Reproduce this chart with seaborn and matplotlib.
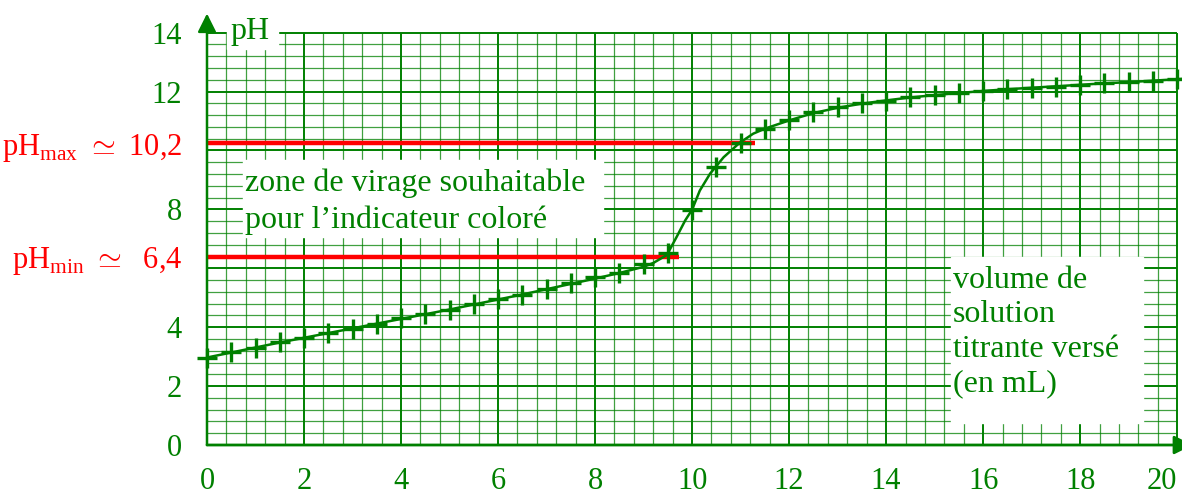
import numpy as np
import seaborn as sns
import matplotlib.pyplot as plt
from matplotlib.patches import Rectangle

# mesures (volume versé en mL, pH)
volume = [0, 0.5, 1, 1.5, 2, 2.5, 3, 3.5, 4, 4.5, 5, 5.5, 6, 6.5, 7, 7.5, 8,
          8.5, 9, 9.5, 10, 10.5, 11, 11.5, 12, 12.5, 13, 13.5, 14, 14.5, 15,
          15.5, 16, 16.5, 17, 17.5, 18, 18.5, 19, 19.5, 20]
ph = [2.97, 3.16, 3.31, 3.50, 3.65, 3.81, 3.95, 4.12, 4.30, 4.44, 4.60, 4.78,
      4.97, 5.10, 5.30, 5.50, 5.69, 5.85, 6.15, 6.53, 7.99, 9.43, 10.26, 10.74,
      11.02, 11.30, 11.47, 11.60, 11.69, 11.81, 11.89, 11.94, 12.03, 12.08,
      12.12, 12.17, 12.24, 12.28, 12.32, 12.37, 12.43]

# courbe tracée
curve_v = [0, 0.5, 1, 1.5, 2, 2.5, 3, 3.5, 4, 4.5, 5, 5.5, 6, 6.5, 7, 7.5, 8,
           8.5, 9, 9.2, 9.48, 9.68, 9.86, 10, 10.16, 10.37, 10.65, 10.98,
           11.26, 11.5, 12, 12.5, 13, 13.5, 14, 14.5, 15, 15.5, 16, 16.5, 17,
           17.5, 18, 18.5, 19, 19.5, 20, 20.1]
curve_ph = [2.97, 3.14, 3.31, 3.48, 3.64, 3.80, 3.96, 4.12, 4.28, 4.44, 4.60,
            4.77, 4.94, 5.11, 5.29, 5.47, 5.65, 5.84, 6.05, 6.18, 6.45, 7.06,
            7.63, 7.99, 8.64, 9.21, 9.77, 10.26, 10.57, 10.74, 11.02, 11.27,
            11.45, 11.59, 11.70, 11.80, 11.88, 11.95, 12.02, 12.08, 12.13,
            12.18, 12.23, 12.28, 12.32, 12.37, 12.42, 12.43]

ph_min = 6.4
ph_max = 10.25
ph_min_end = 9.73
ph_max_end = 11.3

x_labels = [str(v) for v in range(0, 21, 2)]
y_ticks = [0, 2, 4, ph_min, 8, ph_max, 12, 14]
y_labels = ["0", "2", "4", r"pH$_{\mathregular{min}}\;\simeq$  6,4", "8",
            r"pH$_{\mathregular{max}}\;\simeq$ 10,2", "12", "14"]

green = "#008000"
red = "#ff0000"

sns.set_style("white")
plt.rcParams["font.family"] = ["Liberation Serif", "DejaVu Serif"]
plt.rcParams["mathtext.fontset"] = "custom"
plt.rcParams["mathtext.rm"] = "Liberation Serif"

fig = plt.figure(figsize=(11.82, 4.98), dpi=100)
ax = fig.add_axes([207 / 1182, 53 / 498, 975 / 1182, 430 / 498])
ax.set_xlim(0, 20.1)
ax.set_ylim(0, 14.6)
for s in ax.spines.values():
    s.set_visible(False)

# papier millimétré
minor_x = np.round(np.arange(0.4, 20.01, 0.4), 2)
minor_y = np.round(np.arange(0.4, 14.01, 0.4), 2)
for xv in minor_x:
    major = abs(xv / 2 - round(xv / 2)) < 1e-6
    ax.vlines(xv, 0, 14, color=green, lw=1.4 if major else 0.9,
              alpha=1 if major else 0.75, zorder=1)
for yv in minor_y:
    major = abs(yv / 2 - round(yv / 2)) < 1e-6
    ax.hlines(yv, 0, 20, color=green, lw=1.4 if major else 0.9,
              alpha=1 if major else 0.75, zorder=1)

# cadres blancs
ax.add_patch(Rectangle((0.74, 7.05), 7.42, 2.61, color="white", zorder=2))
ax.add_patch(Rectangle((15.34, 0.75), 3.96, 5.62, color="white", zorder=2))
ax.add_patch(Rectangle((0.41, 13.46), 1.05, 1.2, color="white", zorder=2,
                       clip_on=False))

# axes fléchés
ax.annotate("", xy=(0, 14.65), xytext=(0, 0), annotation_clip=False,
            arrowprops=dict(arrowstyle="-|>", color=green, lw=1.8,
                            mutation_scale=28, shrinkA=0, shrinkB=0), zorder=5)
ax.annotate("", xy=(20.32, 0), xytext=(0, 0), annotation_clip=False,
            arrowprops=dict(arrowstyle="-|>", color=green, lw=2,
                            mutation_scale=28, shrinkA=0, shrinkB=0), zorder=5)

# zone de virage
ax.hlines([ph_max, ph_min], 0, [ph_max_end, ph_min_end], color=red, lw=3.2,
          zorder=3)

sns.lineplot(x=curve_v, y=curve_ph, color=green, lw=1.8, ax=ax, zorder=4,
             sort=False)
sns.scatterplot(x=volume, y=ph, marker="+", s=220, linewidth=2.4, color=green,
                ax=ax, zorder=4, clip_on=False)

ax.text(0.78, 8.9, "zone de virage souhaitable", fontsize=23, color=green,
        va="center", zorder=3)
ax.text(0.78, 7.64, "pour l\u2019indicateur color\u00e9", fontsize=23,
        color=green, va="center", zorder=3)
ax.text(15.38, 3.84, "volume de\nsolution\ntitrante vers\u00e9\n(en mL)",
        fontsize=23, color=green, va="center", linespacing=1.25, zorder=3)
ax.text(0.88, 14.05, "pH", fontsize=23, color=green, ha="center",
        va="center", zorder=3)

ax.set_xticks(range(0, 21, 2))
ax.set_xticklabels(x_labels)
ax.set_yticks(y_ticks)
ax.set_yticklabels(y_labels)
ax.tick_params(axis="x", length=0, pad=16, labelsize=22, labelcolor=green)
ax.tick_params(axis="y", length=0, pad=18, labelsize=22, labelcolor=green)
ax.get_xticklabels()[-1].set_horizontalalignment("right")
for lab, t in zip(ax.get_yticklabels(), y_ticks):
    if t in (ph_min, ph_max):
        lab.set_color(red)
ax.set_xlabel("")
ax.set_ylabel("")

fig.savefig("out.png", dpi=100)
